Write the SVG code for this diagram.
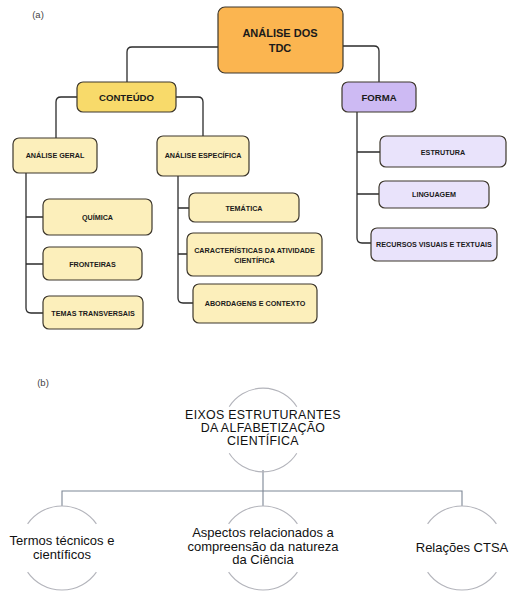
<svg xmlns="http://www.w3.org/2000/svg" width="519" height="600" viewBox="0 0 519 600">
<style>
.bx{stroke:#3d372c;stroke-width:1.2}
.t0{fill:#fbb550}.t1{fill:#f8da6a}.t2{fill:#fcefbb}.p1{fill:#cdbaf3}.p2{fill:#e9e3fb}
.lab{font-family:"Liberation Sans",Arial,sans-serif;font-weight:bold;fill:#1a1a1a;text-anchor:middle}
.s{font-size:7.2px}.m{font-size:9.6px}.l{font-size:11px}
.cap{font-family:"Liberation Sans",Arial,sans-serif;font-size:9.5px;fill:#444;text-anchor:middle}
.con{fill:none;stroke:#2b2b2b;stroke-width:1.3}
.con2{fill:none;stroke:#7d8795;stroke-width:1.1}
.arc{fill:none;stroke:#b3b4bb;stroke-width:1.1}
.btx{font-family:"Liberation Sans",Arial,sans-serif;font-size:13px;fill:#111;text-anchor:middle}
.btx2{font-family:"Liberation Sans",Arial,sans-serif;font-size:12.4px;letter-spacing:0.3px;fill:#111;text-anchor:middle}
</style>
<text class="cap" x="38" y="18">(a)</text>
<text class="cap" x="43" y="386">(b)</text>
<g id="connectors">
<path class="con" d="M218,47 H132 Q127,47 127,52 V82"/>
<path class="con" d="M343,46 H374 Q379,46 379,51 V82"/>
<path class="con" d="M77,97 H61 Q56,97 56,102 V138"/>
<path class="con" d="M176,97 H198 Q203,97 203,102 V136"/>
<path class="con" d="M26,173 V308 Q26,313 31,313 H43 M26,217 H43 M26,264 H43"/>
<path class="con" d="M178,176 V298 Q178,303 183,303 H193 M178,208 H189 M178,254 H187"/>
<path class="con" d="M357,112 V238 Q357,243 362,243 H371 M357,152 H380 M357,194 H379"/>
<path class="con2" d="M263,470 V491 M62,506 V491 H462 V506 M263,491 V506"/>
</g>
<g id="n-analise-tdc"><rect class="bx t0" x="218" y="7" width="125" height="66" rx="7"/><text class="lab l" x="280" y="37">ANÁLISE DOS</text><text class="lab l" x="280" y="52">TDC</text></g>
<g id="n-conteudo"><rect class="bx t1" x="77" y="82" width="99" height="30" rx="6"/><text class="lab m" x="126.5" y="100.5">CONTEÚDO</text></g>
<g id="n-forma"><rect class="bx p1" x="342" y="82" width="74" height="30" rx="6"/><text class="lab m" x="379" y="100.5">FORMA</text></g>
<g id="n-analise-geral"><rect class="bx t2" x="13" y="138" width="84" height="35" rx="6"/><text class="lab s" x="55" y="158">ANÁLISE GERAL</text></g>
<g id="n-analise-especifica"><rect class="bx t2" x="157" y="136" width="92" height="40" rx="6"/><text class="lab s" x="203" y="158">ANÁLISE ESPECÍFICA</text></g>
<g id="n-quimica"><rect class="bx t2" x="43" y="199" width="109" height="36" rx="6"/><text class="lab s" x="97.5" y="219.5">QUÍMICA</text></g>
<g id="n-fronteiras"><rect class="bx t2" x="43" y="247" width="99" height="33" rx="6"/><text class="lab s" x="92.5" y="266.5">FRONTEIRAS</text></g>
<g id="n-temas"><rect class="bx t2" x="43" y="296" width="100" height="33" rx="6"/><text class="lab s" x="93" y="315.5">TEMAS TRANSVERSAIS</text></g>
<g id="n-tematica"><rect class="bx t2" x="189" y="193" width="110" height="29" rx="6"/><text class="lab s" x="244" y="210.5">TEMÁTICA</text></g>
<g id="n-caracteristicas"><rect class="bx t2" x="187" y="233" width="135" height="43" rx="6"/><text class="lab s" x="254.5" y="253">CARACTERÍSTICAS DA ATIVIDADE</text><text class="lab s" x="254.5" y="263">CIENTÍFICA</text></g>
<g id="n-abordagens"><rect class="bx t2" x="193" y="284" width="124" height="39" rx="6"/><text class="lab s" x="255" y="306">ABORDAGENS E CONTEXTO</text></g>
<g id="n-estrutura"><rect class="bx p2" x="380" y="136" width="126" height="31" rx="6"/><text class="lab s" x="443" y="154.5">ESTRUTURA</text></g>
<g id="n-linguagem"><rect class="bx p2" x="379" y="181" width="110" height="27" rx="6"/><text class="lab s" x="434" y="197">LINGUAGEM</text></g>
<g id="n-recursos"><rect class="bx p2" x="371" y="228" width="126" height="33" rx="6"/><text class="lab s" x="434" y="247">RECURSOS VISUAIS E TEXTUAIS</text></g>
<g id="n-eixos"><path class="arc" d="M229.2,406.7 A40,40 0 0 1 296.8,406.7 M229.2,453.3 A40,40 0 0 0 296.8,453.3"/><text class="btx2" x="263" y="419">EIXOS ESTRUTURANTES</text><text class="btx2" x="263" y="432">DA ALFABETIZAÇÃO</text><text class="btx2" x="263" y="445">CIENTÍFICA</text></g>
<g id="n-termos"><path class="arc" d="M27.6,523.9 A42,42 0 0 1 96.4,523.9 M27.6,572.1 A42,42 0 0 0 96.4,572.1"/><text class="btx" x="62" y="545">Termos técnicos e</text><text class="btx" x="62" y="558.5">científicos</text></g>
<g id="n-aspectos"><path class="arc" d="M228.6,523.9 A42,42 0 0 1 297.4,523.9 M228.6,572.1 A42,42 0 0 0 297.4,572.1"/><text class="btx" x="263" y="537">Aspectos relacionados a</text><text class="btx" x="263" y="550.5">compreensão da natureza</text><text class="btx" x="263" y="564">da Ciência</text></g>
<g id="n-ctsa"><path class="arc" d="M427.6,523.9 A42,42 0 0 1 496.4,523.9 M427.6,572.1 A42,42 0 0 0 496.4,572.1"/><text class="btx" x="462" y="552">Relações CTSA</text></g>
</svg>
